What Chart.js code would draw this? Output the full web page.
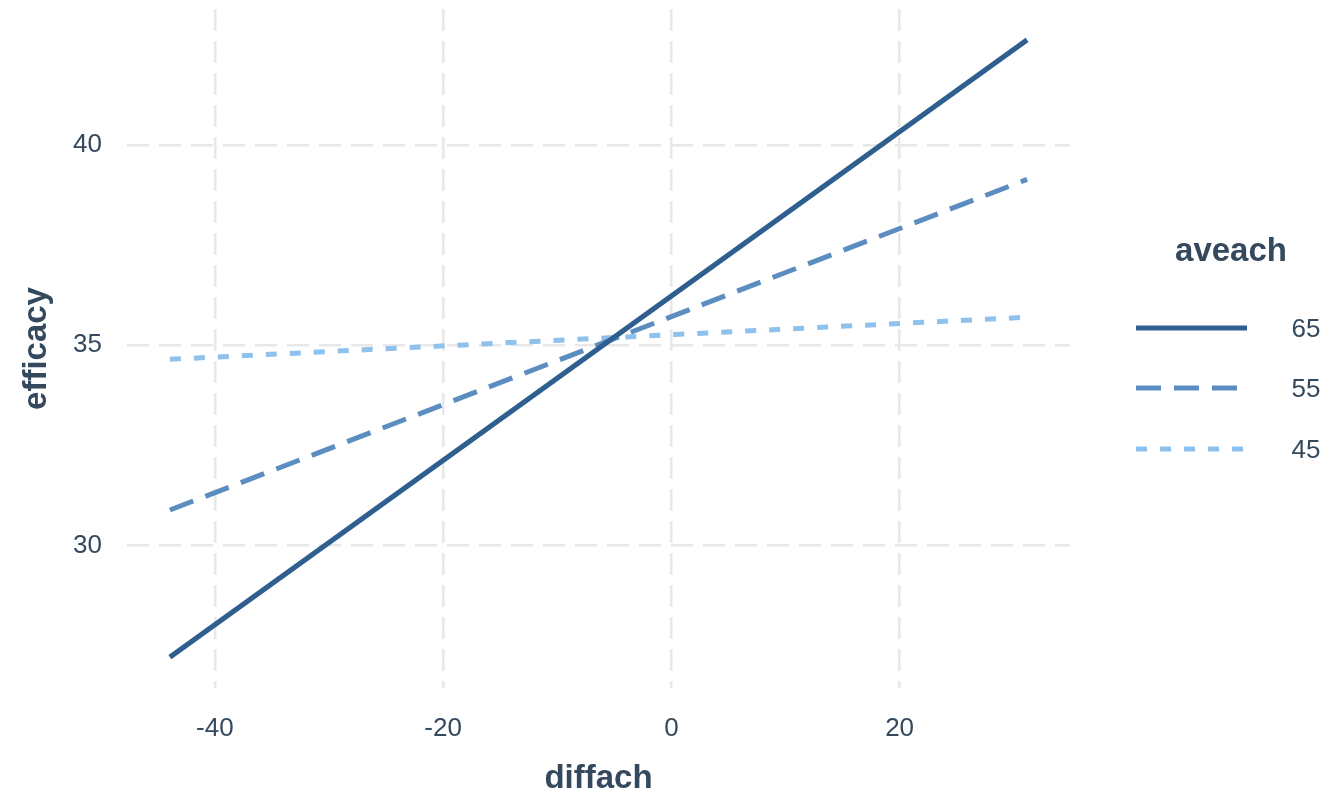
<!DOCTYPE html>
<html>
<head>
<meta charset="utf-8">
<script src="https://cdn.jsdelivr.net/npm/chart.js@4/dist/chart.umd.min.js"></script>
<style>
html,body{margin:0;padding:0;background:#fff;}
#wrap{width:1343px;height:793px;position:relative;}
</style>
</head>
<body>
<div id="wrap"><canvas id="c" width="1343" height="793"></canvas></div>
<script>
// ---- data ----
const diffach = [-43.94, 31.17];
const eff65 = [27.22, 42.62];
const eff55 = [30.89, 39.14];
const eff45 = [34.65, 35.70];
const seriesNames = ['65', '55', '45'];
const xTicks = [-40, -20, 0, 20];
const yTicks = [30, 35, 40];
const xLabel = 'diffach';
const yLabel = 'efficacy';
const legendTitle = 'aveach';

const colors = ['#2E5F8F', '#5B8DC0', '#8EC1EB'];
const dashes = [[], [25, 13], [11, 13]];
const FONT = '"Liberation Sans", Arial, sans-serif';
const TEXT = '#34495E';

function pts(ys){ return diffach.map((x,i)=>({x:x, y:ys[i]})); }
const allY = [eff65, eff55, eff45];

const legendPlugin = {
  id: 'customLegend',
  afterDraw(chart){
    const ctx = chart.ctx;
    ctx.save();
    ctx.fillStyle = TEXT;
    ctx.textAlign = 'center';
    ctx.textBaseline = 'middle';
    ctx.font = 'bold 33px ' + FONT;
    ctx.fillText(legendTitle, 1231, 252);
    const ys = [328, 388, 449];
    seriesNames.forEach((n,i)=>{
      ctx.strokeStyle = colors[i];
      ctx.lineWidth = 5;
      ctx.lineCap = 'butt';
      ctx.setLineDash(dashes[i]);
      ctx.beginPath();
      ctx.moveTo(1136, ys[i]);
      ctx.lineTo(1247, ys[i]);
      ctx.stroke();
      ctx.setLineDash([]);
      ctx.fillStyle = TEXT;
      ctx.font = '26px ' + FONT;
      ctx.fillText(n, 1306, ys[i] + 2);
    });
    ctx.restore();
  }
};

new Chart(document.getElementById('c'), {
  type: 'line',
  data: {
    datasets: seriesNames.map((n,i)=>({
      label: n,
      data: pts(allY[i]),
      borderColor: colors[i],
      backgroundColor: colors[i],
      borderWidth: 5,
      borderDash: dashes[i],
      borderCapStyle: 'butt',
      pointRadius: 0,
      tension: 0,
      fill: false
    }))
  },
  options: {
    responsive: false,
    animation: false,
    layout: { padding: { left: 0, right: 273, top: 9, bottom: 0 } },
    plugins: { legend: { display: false }, tooltip: { enabled: false } },
    scales: {
      x: {
        type: 'linear',
        min: -47.7, max: 34.93,
        afterBuildTicks: s => { s.ticks = xTicks.map(v=>({value:v})); },
        afterFit: s => { s.height = 105; s.paddingLeft = 0; s.paddingRight = 0; },
        grid: { color: '#E8E8E8', lineWidth: 2.5, drawTicks: false },
        border: { display: false, dash: [22, 10] },
        ticks: { color: TEXT, font: { family: FONT, size: 26 }, padding: 25, maxRotation: 0 },
        title: { display: true, text: xLabel, color: TEXT, font: { family: FONT, size: 33, weight: 'bold' }, padding: { top: 0, bottom: -6 } }
      },
      y: {
        type: 'linear',
        min: 26.45, max: 43.39,
        afterBuildTicks: s => { s.ticks = yTicks.map(v=>({value:v})); },
        afterFit: s => { s.width = 127; s.paddingTop = 0; s.paddingBottom = 0; },
        grid: { color: '#E8E8E8', lineWidth: 2.5, drawTicks: false },
        border: { display: false, dash: [22, 10] },
        ticks: { color: TEXT, font: { family: FONT, size: 26 }, padding: 25 },
        title: { display: true, text: yLabel, color: TEXT, font: { family: FONT, size: 33, weight: 'bold' }, padding: { top: 17, bottom: 0 } }
      }
    }
  },
  plugins: [legendPlugin]
});
</script>
</body>
</html>
